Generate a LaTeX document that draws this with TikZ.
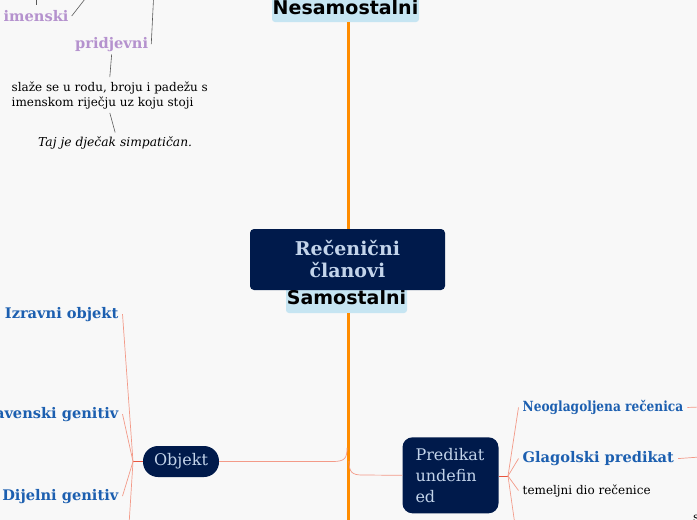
\documentclass[tikz,border=0pt]{standalone}
\usepackage{fontspec}
\setmainfont{DejaVu Serif}
\newfontfamily\headfont{DejaVu Sans}
\newfontfamily\narrowserif[FakeStretch=0.87]{DejaVu Serif}
\usetikzlibrary{positioning}
\definecolor{paper}{HTML}{F8F8F8}
\definecolor{navy}{HTML}{001A4B}
\definecolor{paleblue}{HTML}{C3D4EA}
\definecolor{catblue}{HTML}{C6E5F2}
\definecolor{spineorange}{HTML}{FF8C00}
\definecolor{twigred}{HTML}{F39A88}
\definecolor{twigdark}{HTML}{E8553F}
\definecolor{topicblue}{HTML}{1C5FB0}
\definecolor{lilac}{HTML}{B592CE}
\tikzset{
  catbox/.style={fill=catblue, rounded corners=3pt, inner sep=0pt, font=\headfont\bfseries\fontsize{19}{22}\selectfont},
  rootbox/.style={fill=navy, text=paleblue, rounded corners=4pt, align=center, inner sep=0pt, font=\bfseries\fontsize{19}{22}\selectfont},
  mainbox/.style={fill=navy, text=paleblue, inner sep=0pt, font=\fontsize{16}{21}\selectfont},
  leaf/.style={text=topicblue, inner sep=4pt, font=\bfseries\fontsize{14.6}{16}\selectfont},
  lilacleaf/.style={text=lilac, inner sep=3pt, font=\bfseries\fontsize{14.6}{16}\selectfont},
  note/.style={inner sep=4pt, align=left, font=\fontsize{12}{15}\selectfont},
  spine/.style={spineorange, line width=3pt},
  twig/.style={twigred, line width=0.7pt},
  gline/.style={black!65, line width=0.6pt}
}
\begin{document}
\begin{tikzpicture}[x=1pt, y=-1pt]
\fill[paper] (0,0) rectangle (697,520);
\useasboundingbox (0,0) rectangle (697,520);
% main spine
\node[catbox, minimum width=147, minimum height=30] (nes) at (345.5,7) {Nesamostalni};
\node[catbox, minimum width=121, minimum height=31] (sam) at (346.5,297.5) {Samostalni};
\node[rootbox, minimum width=195, minimum height=61] (root) at (347.5,259.5) {Rečenični\\članovi};
\coordinate (end) at (348,525);
\draw[spine] (nes.south -| 348,0) -- (root.north -| 348,0);
\draw[spine] (sam.south -| 348,0) -- (end);
% Objekt
\node[mainbox, rounded corners=15pt, minimum width=76, minimum height=31] (obj) at (181,461.5) {Objekt};
\coordinate (objin) at (347,448);
\draw[twig] (obj.east) -- (333,461.5) .. controls (345,461.5) and (347,458) .. (objin);
\coordinate (objfan) at (133,461.5);
\node[leaf, anchor=base east] (izr) at (122.5,318) {Izravni objekt};
\node[leaf, anchor=base east] (slav) at (122.5,418) {Slavenski genitiv};
\node[leaf, anchor=base east] (dij) at (122.5,500) {Dijelni genitiv};
\coordinate (objlow) at (129,525);
\draw[twigdark, line width=1pt] (obj.west) -- (objfan);
\foreach \t in {izr,slav,dij} \draw[twig] (objfan) -- (\t.east);
\draw[twig] (objfan) -- (objlow);
% Predikat
\node[mainbox, rounded corners=10pt, minimum width=96, minimum height=76, text width=70, align=left] (pred) at (450.5,475.3) {Predikat\\undefin\\ed};
\coordinate (predout) at (349,461);
\draw[twig] (predout) .. controls (349,472) and (352,475) .. (362,475) -- (pred.west);
\coordinate (predfan) at (508,476);
\node[leaf, anchor=base west, font=\narrowserif\bfseries\fontsize{14}{16}\selectfont] (neo) at (518.5,411.5) {Neoglagoljena rečenica};
\node[leaf, anchor=base west] (glag) at (518.5,462.5) {Glagolski predikat};
\node[note, anchor=base west] (tem) at (518.5,494) {temeljni dio rečenice};
\node[note, anchor=base west] (ses) at (689,521) {s};
\coordinate (predlow) at (515,525);
\coordinate (neoout) at (700,407);
\coordinate (glagout) at (700,457);
\draw[twigdark, line width=1pt] (pred.east |- predfan) -- (predfan);
\foreach \t in {neo,glag,tem} \draw[twig] (predfan) -- (\t.west);
\draw[twig] (predfan) -- (predlow);
\draw[twig] (neo.east) -- (neoout);
\draw[twig] (glag.east) -- (glagout);
% top left: pridjevni
\node[lilacleaf, anchor=base west] (imen) at (0.5,21.5) {imenski};
\node[lilacleaf, anchor=base west] (prid) at (72,48) {pridjevni};
\node[note, anchor=base west] (slaze) at (7.5,106) {slaže se u rodu, broju i padežu s\\imenskom riječju uz koju stoji};
\node[note, anchor=base west, font=\itshape\fontsize{12.3}{15}\selectfont] (taj) at (34,146.5) {Taj je dječak simpatičan.};
\coordinate (imenup) at (85,-1);
\coordinate (imentop) at (36,-1);
\coordinate (pridup) at (153.5,-1);
\draw[gline] (imentop) -- (36,4.5);
\draw[gline] (imen.east) -- (imenup);
\draw[gline] (prid.east) -- (pridup);
\draw[gline] (prid.south) -- (slaze.north);
\draw[gline] (slaze.south) -- (taj.north);
\end{tikzpicture}
\end{document}
